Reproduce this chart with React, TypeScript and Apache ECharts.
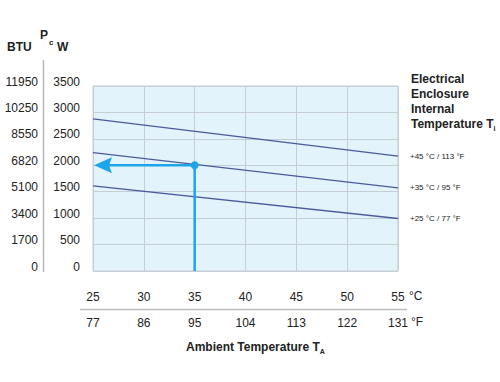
import React, { useEffect, useRef } from "react";
import * as echarts from "echarts";

const celsiusTicks = [25, 30, 35, 40, 45, 50, 55];
const fahrenheitTicks = [77, 86, 95, 104, 113, 122, 131];
const wattTicks = [0, 500, 1000, 1500, 2000, 2500, 3000, 3500];
const btuTicks = [0, 1700, 3400, 5100, 6820, 8550, 10250, 11950];

const seriesNames = ["+45 °C / 113 °F", "+35 °C / 95 °F", "+25 °C / 77 °F"];
const line45 = [[25, 2880], [55, 2173]];
const line35 = [[25, 2240], [55, 1572]];
const line25 = [[25, 1611], [55, 993]];
// [ambient °C, power W, arrow target °C, drop target W]
const operatingPoint = [35, 2000, 25, 0];

const FONT = "'Liberation Sans', Arial, Helvetica, sans-serif";
const LINE_COLOR = "#4a5a9c";
const ARROW_COLOR = "#1ba6e8";
const TEXT = "#222";

export default function App() {
  const ref = useRef<HTMLDivElement>(null);
  useEffect(() => {
    if (!ref.current) return;
    const chart = echarts.init(ref.current, undefined, { renderer: "svg" });
    const xMin = celsiusTicks[0];
    const xMax = celsiusTicks[celsiusTicks.length - 1];
    const yMin = wattTicks[0];
    const yMax = wattTicks[wattTicks.length - 1];
    const tempLine = (name: string, data: number[][]) => ({
      type: "line",
      name,
      data,
      xAxisIndex: 0,
      yAxisIndex: 0,
      symbol: "none",
      lineStyle: { color: LINE_COLOR, width: 1.3 },
      endLabel: {
        show: true,
        formatter: name,
        distance: 12,
        fontSize: 8,
        fontFamily: FONT,
        color: TEXT,
      },
    });
    const yLabel = {
      fontSize: 12,
      color: TEXT,
      fontFamily: FONT,
      verticalAlign: "bottom",
      lineHeight: 9,
    };
    chart.setOption({
      animation: false,
      textStyle: { fontFamily: FONT },
      grid: {
        left: 93,
        right: 102,
        top: 86,
        bottom: 111,
        show: true,
        backgroundColor: "#e3f3fc",
        borderColor: "#c6ced5",
        borderWidth: 1,
      },
      xAxis: [
        {
          type: "value",
          min: xMin,
          max: xMax,
          interval: 5,
          position: "bottom",
          axisLine: { show: false },
          axisTick: { show: false },
          splitLine: { show: true, lineStyle: { color: "#c6ced5", width: 1 } },
          axisLabel: {
            margin: 20,
            fontSize: 12,
            color: TEXT,
            fontFamily: FONT,
            formatter: (v: number) => String(v),
          },
        },
        {
          type: "value",
          min: xMin,
          max: xMax,
          interval: 5,
          position: "bottom",
          axisLine: { show: false },
          axisTick: { show: false },
          splitLine: { show: false },
          axisLabel: {
            margin: 46,
            fontSize: 12,
            color: TEXT,
            fontFamily: FONT,
            formatter: (v: number) => {
              const i = celsiusTicks.indexOf(v);
              return i >= 0 ? String(fahrenheitTicks[i]) : "";
            },
          },
        },
      ],
      yAxis: [
        {
          type: "value",
          min: yMin,
          max: yMax,
          interval: 500,
          position: "left",
          axisLine: { show: false },
          axisTick: { show: false },
          splitLine: { show: true, lineStyle: { color: "#c6ced5", width: 1 } },
          axisLabel: {
            ...yLabel,
            margin: 13,
            formatter: (v: number) => {
              const i = wattTicks.indexOf(v);
              return i >= 0 ? String(wattTicks[i]) : "";
            },
          },
        },
        {
          type: "value",
          min: yMin,
          max: yMax,
          interval: 500,
          position: "left",
          axisLine: { show: false },
          axisTick: { show: false },
          splitLine: { show: false },
          axisLabel: {
            ...yLabel,
            margin: 55,
            formatter: (v: number) => {
              const i = wattTicks.indexOf(v);
              return i >= 0 ? String(btuTicks[i]) : "";
            },
          },
        },
      ],
      series: [
        tempLine(seriesNames[0], line45),
        tempLine(seriesNames[1], line35),
        tempLine(seriesNames[2], line25),
        {
          type: "custom",
          xAxisIndex: 0,
          yAxisIndex: 0,
          data: [operatingPoint],
          z: 5,
          clip: false,
          renderItem: (params: any, api: any) => {
            const p = api.coord([api.value(0), api.value(1)]);
            const tip = api.coord([api.value(2), api.value(1)]);
            const bottom = api.coord([api.value(0), api.value(3)]);
            const tx = tip[0] + 1;
            const y = p[1];
            const headLen = 18;
            const headHalf = 8;
            const notch = 15;
            return {
              type: "group",
              children: [
                {
                  type: "line",
                  shape: { x1: p[0], y1: y, x2: tx + notch, y2: y },
                  style: { stroke: ARROW_COLOR, lineWidth: 2.5 },
                },
                {
                  type: "line",
                  shape: { x1: p[0], y1: y, x2: bottom[0], y2: bottom[1] },
                  style: { stroke: ARROW_COLOR, lineWidth: 2.5 },
                },
                {
                  type: "polygon",
                  shape: {
                    points: [
                      [tx, y],
                      [tx + headLen, y - headHalf],
                      [tx + notch, y],
                      [tx + headLen, y + headHalf],
                    ],
                  },
                  style: { fill: ARROW_COLOR },
                },
                {
                  type: "circle",
                  shape: { cx: p[0], cy: y, r: 4 },
                  style: { fill: ARROW_COLOR },
                },
              ],
            };
          },
        },
      ],
      graphic: [
        {
          type: "line",
          shape: { x1: 43.5, y1: 60, x2: 43.5, y2: 272 },
          style: { stroke: "#b4b4b4", lineWidth: 1.5 },
        },
        {
          type: "line",
          shape: { x1: 80, y1: 309.5, x2: 407, y2: 309.5 },
          style: { stroke: "#bdbdbd", lineWidth: 1.5 },
        },
        {
          type: "text",
          left: 7,
          top: 41,
          style: { text: "BTU", fontSize: 12, fontWeight: "bold", fill: TEXT, fontFamily: FONT },
        },
        {
          type: "text",
          left: 40,
          top: 29,
          style: { text: "P", fontSize: 12, fontWeight: "bold", fill: TEXT, fontFamily: FONT },
        },
        {
          type: "text",
          left: 49,
          top: 38,
          style: { text: "c", fontSize: 8, fontWeight: "bold", fill: TEXT, fontFamily: FONT },
        },
        {
          type: "text",
          left: 57,
          top: 41,
          style: { text: "W", fontSize: 12, fontWeight: "bold", fill: TEXT, fontFamily: FONT },
        },
        {
          type: "text",
          left: 409,
          top: 290,
          style: { text: "°C", fontSize: 12, fill: TEXT, fontFamily: FONT },
        },
        {
          type: "text",
          left: 411,
          top: 316,
          style: { text: "°F", fontSize: 12, fill: TEXT, fontFamily: FONT },
        },
        {
          type: "text",
          left: 186,
          top: 341,
          style: {
            text: "{m|Ambient Temperature T}{s|A}",
            fontFamily: FONT,
            fill: TEXT,
            rich: {
              m: { fontSize: 12, fontWeight: "bold", fontFamily: FONT, fill: TEXT },
              s: { fontSize: 7, fontWeight: "bold", fontFamily: FONT, fill: TEXT, padding: [8, 0, 0, 0] },
            },
          },
        },
        {
          type: "text",
          left: 411,
          top: 73,
          style: {
            text: "{m|Electrical}\n{m|Enclosure}\n{m|Internal}\n{m|Temperature T}{s|i}",
            fontFamily: FONT,
            fill: TEXT,
            rich: {
              m: { fontSize: 12, fontWeight: "bold", fontFamily: FONT, fill: TEXT, lineHeight: 15 },
              s: { fontSize: 7, fontWeight: "bold", fontFamily: FONT, fill: TEXT, lineHeight: 15, padding: [8, 0, 0, 0] },
            },
          },
        },
      ],
    });
    return () => chart.dispose();
  }, []);
  return (
    <div
      ref={ref}
      style={{ position: "absolute", left: 0, top: 0, width: 500, height: 382, background: "#fff" }}
    />
  );
}
